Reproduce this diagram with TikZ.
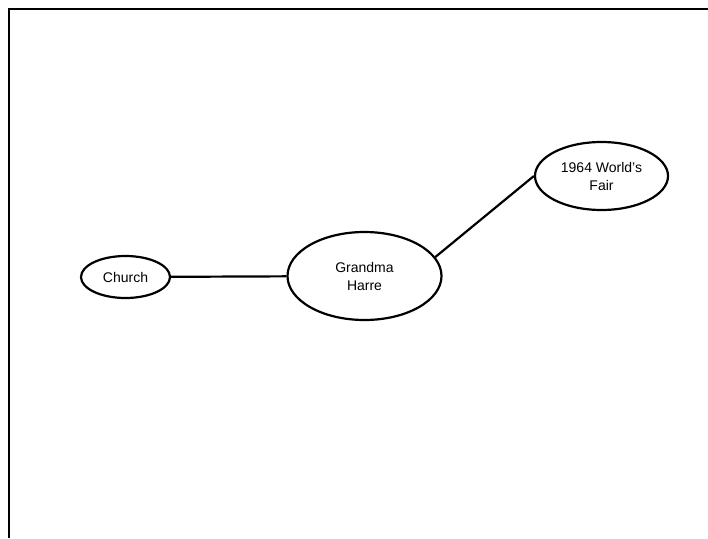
\documentclass[tikz,border=0pt]{standalone}
\usepackage{fontspec}
\setmainfont{Liberation Sans}
\usetikzlibrary{shapes.geometric}
\begin{document}
\begin{tikzpicture}[
  x=1pt, y=-1pt,
  topic/.style={ellipse, draw, line width=2.2pt, inner sep=0pt, align=center, font=\fontsize{14}{18}\selectfont},
  link/.style={line width=2.2pt}
]
\useasboundingbox (0,0) rectangle (708,538);
% frame
\draw[line width=2.6pt] (9,538) -- (9,9) -- (708,9);

\node[topic, minimum width=89pt, minimum height=42pt] (church) at (125.5,277) {Church};
\node[topic, minimum width=154pt, minimum height=88pt] (harre) at (364.5,276) {Grandma\\Harre};
\node[topic, minimum width=133pt, minimum height=68pt] (fair) at (601.5,176) {1964 World's\\Fair};

\draw[link] (church) -- (harre);
\draw[link] (harre.15) -- (fair.west);
\end{tikzpicture}
\end{document}
